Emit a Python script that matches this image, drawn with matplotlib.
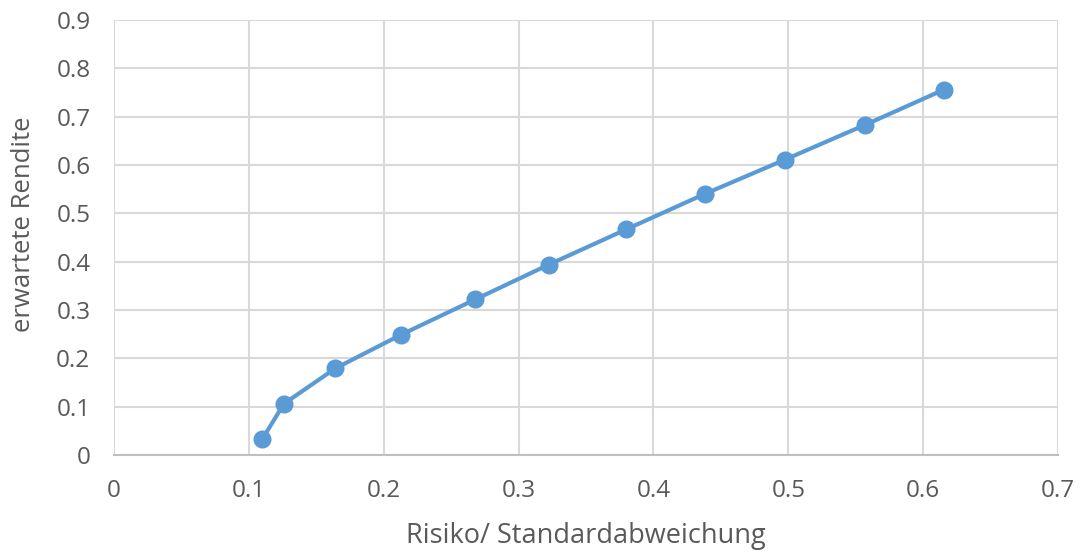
import numpy as np
import matplotlib.pyplot as plt

# Daten
risiko = [0.110, 0.126, 0.164, 0.213, 0.268, 0.3225, 0.380, 0.438, 0.4975, 0.557, 0.6155]
rendite = [0.033, 0.106, 0.179, 0.249, 0.322, 0.394, 0.467, 0.540, 0.611, 0.683, 0.756]

plt.rcParams['font.family'] = ['Open Sans', 'DejaVu Sans']

fig = plt.figure(figsize=(10.88, 5.58), dpi=100)
ax = fig.add_axes([0.1048, 0.1846, 0.8676, 0.7796])

ax.plot(risiko, rendite, color='#5b9bd5', linewidth=3, marker='o',
        markersize=12, zorder=3, solid_capstyle='round')

ax.set_xlim(0, 0.7)
ax.set_ylim(0, 0.9)
ax.set_xticks(np.arange(0, 0.71, 0.1))
ax.set_yticks(np.arange(0, 0.91, 0.1))
ax.set_xticklabels(['0', '0.1', '0.2', '0.3', '0.4', '0.5', '0.6', '0.7'])
ax.set_yticklabels(['0', '0.1', '0.2', '0.3', '0.4', '0.5', '0.6', '0.7', '0.8', '0.9'])

ax.grid(True, color='#d9d9d9', linewidth=1.5)
ax.set_axisbelow(True)
for s in ['top', 'right', 'left']:
    ax.spines[s].set_visible(False)
ax.spines['bottom'].set_color('#bfbfbf')
ax.spines['bottom'].set_linewidth(1.5)
ax.tick_params(length=0, labelsize=17.5, colors='#595959')
ax.tick_params(axis='x', pad=17)
ax.tick_params(axis='y', pad=17)

ax.set_xlabel('Risiko/ Standardabweichung', fontsize=19.5, color='#595959', labelpad=14)
ax.set_ylabel('erwartete Rendite', fontsize=18.5, color='#595959')
ax.yaxis.set_label_coords(-0.083, 0.53)

plt.savefig('out.png')
